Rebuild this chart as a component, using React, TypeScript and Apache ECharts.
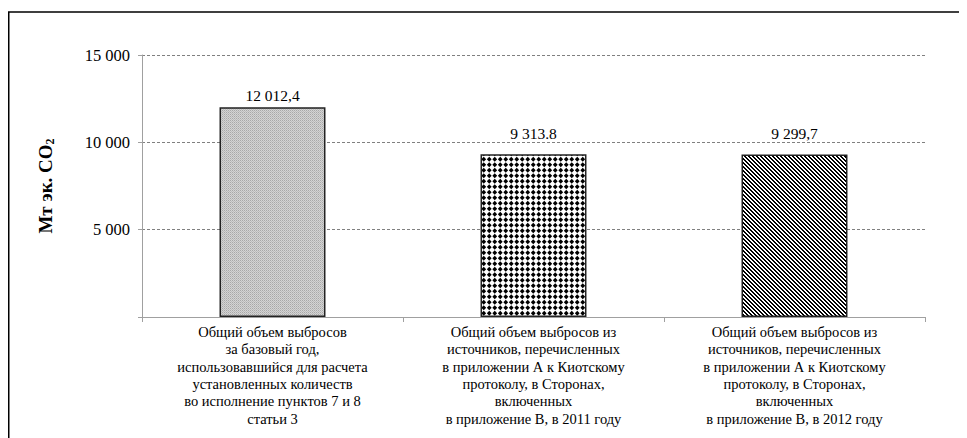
import React, { useEffect, useRef } from "react";
import * as echarts from "echarts";

const categories = [
  "Общий объем выбросов\nза базовый год,\nиспользовавшийся для расчета\nустановленных количеств\nво исполнение пунктов 7 и 8\nстатьи 3",
  "Общий объем выбросов из\nисточников, перечисленных\nв приложении А к Киотскому\nпротоколу, в Сторонах,\nвключенных\nв приложение В, в 2011 году",
  "Общий объем выбросов из\nисточников, перечисленных\nв приложении А к Киотскому\nпротоколу, в Сторонах,\nвключенных\nв приложение В, в 2012 году",
];
const values = [12012.4, 9313.8, 9299.7];
const valueLabels = ["12 012,4", "9 313.8", "9 299,7"];
const yTicks = [0, 5000, 10000, 15000];

function makeTile(size: number, draw: (ctx: CanvasRenderingContext2D) => void) {
  const c = document.createElement("canvas");
  c.width = size;
  c.height = size;
  const ctx = c.getContext("2d")!;
  draw(ctx);
  return c;
}

function grayPattern() {
  return makeTile(2, (ctx) => {
    ctx.fillStyle = "#d4d4d4";
    ctx.fillRect(0, 0, 2, 2);
    ctx.fillStyle = "#a8a8a8";
    ctx.fillRect(0, 0, 1, 1);
    ctx.fillStyle = "#bcbcbc";
    ctx.fillRect(1, 1, 1, 1);
  });
}

function diamondPattern() {
  return makeTile(11, (ctx) => {
    ctx.fillStyle = "#ffffff";
    ctx.fillRect(0, 0, 11, 11);
    ctx.fillStyle = "#000000";
    const pts = [
      [2.75, 2.75],
      [8.25, 2.75],
      [2.75, 8.25],
      [8.25, 8.25],
    ];
    const r = 2.4;
    for (const [x, y] of pts) {
      ctx.beginPath();
      ctx.moveTo(x, y - r);
      ctx.lineTo(x + r, y);
      ctx.lineTo(x, y + r);
      ctx.lineTo(x - r, y);
      ctx.closePath();
      ctx.fill();
    }
  });
}

function stripePattern() {
  return makeTile(4, (ctx) => {
    ctx.fillStyle = "#ffffff";
    ctx.fillRect(0, 0, 4, 4);
    ctx.fillStyle = "#000000";
    for (let i = 0; i < 4; i++) {
      ctx.fillRect(i, i, 1, 1);
      ctx.fillRect((i + 1) % 4, i, 1, 1);
    }
  });
}

function fmt(v: number) {
  return String(v).replace(/\B(?=(\d{3})+(?!\d))/g, " ");
}

export default function App() {
  const ref = useRef<HTMLDivElement>(null);
  useEffect(() => {
    if (!ref.current) return;
    const chart = echarts.init(ref.current, undefined, { renderer: "svg" });
    const patterns = [grayPattern(), diamondPattern(), stripePattern()];
    const distances = [4, 13, 13];
    const font = "'Liberation Serif', 'Times New Roman', serif";
    chart.setOption({
      animation: false,
      backgroundColor: "#ffffff",
      textStyle: { fontFamily: font },
      graphic: [
        {
          type: "rect",
          shape: { x: 0.75, y: 4, width: 1200, height: 600 },
          style: { fill: "none", stroke: "#000", lineWidth: 1.5 },
          silent: true,
          z: 100,
        },
      ],
      grid: { left: 134, right: 42, top: 47, bottom: 121 },
      xAxis: {
        type: "category",
        data: categories,
        axisLine: { show: true, lineStyle: { color: "#a0a0a0", width: 1 } },
        axisTick: { show: true, length: 5, lineStyle: { color: "#a0a0a0" } },
        axisLabel: {
          interval: 0,
          color: "#000",
          fontFamily: font,
          fontSize: 14.5,
          lineHeight: 17.4,
          margin: 6,
        },
      },
      yAxis: {
        type: "value",
        min: 0,
        max: 15000,
        interval: 5000,
        name: "{a|Мт эк. CO}{s|2}",
        nameLocation: "middle",
        nameGap: 86,
        nameTextStyle: {
          rich: {
            a: { fontFamily: font, fontSize: 19, fontWeight: "bold", color: "#000" },
            s: { fontFamily: font, fontSize: 12, fontWeight: "bold", color: "#000", padding: [9, 0, 0, 0] },
          },
        },
        axisLine: { show: true, lineStyle: { color: "#a0a0a0", width: 1 } },
        axisTick: { show: true, length: 4, lineStyle: { color: "#a0a0a0" } },
        splitLine: {
          show: true,
          lineStyle: { color: "#808080", type: [3, 2], width: 1 },
        },
        axisLabel: {
          color: "#000",
          fontFamily: font,
          fontSize: 16.5,
          margin: 12,
          formatter: (v: number) => (yTicks.includes(v) && v !== 0 ? fmt(v) : ""),
        },
      },
      series: [
        {
          type: "bar",
          barWidth: "40.6%",
          data: values.map((v, i) => ({
            value: v,
            itemStyle: {
              color: { image: patterns[i], repeat: "repeat" },
              borderColor: "#222",
              borderWidth: 1.5,
            },
            label: {
              show: true,
              position: "top",
              distance: distances[i],
              formatter: valueLabels[i],
              color: "#000",
              fontFamily: font,
              fontSize: 15.5,
            },
          })),
        },
      ],
    });
    return () => chart.dispose();
  }, []);
  return <div ref={ref} style={{ width: 959, height: 430 }} />;
}
